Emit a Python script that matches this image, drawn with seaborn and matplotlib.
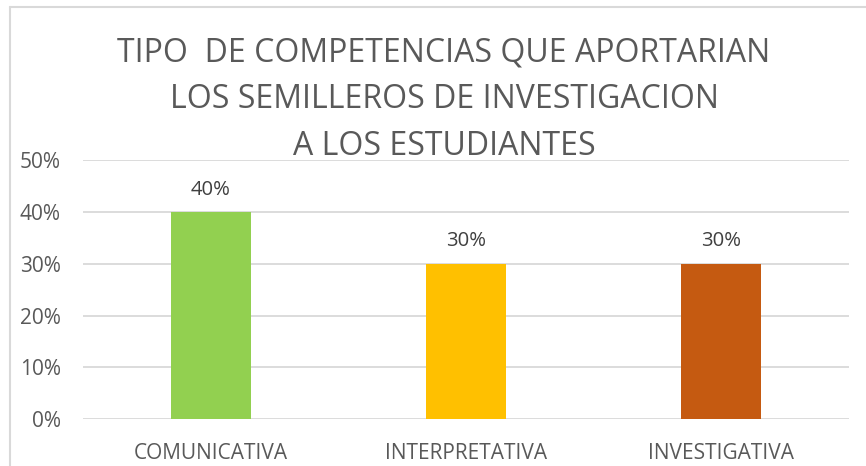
import matplotlib
matplotlib.use("Agg")
import matplotlib.pyplot as plt
import seaborn as sns
import pandas as pd
from matplotlib.lines import Line2D

categories = ["COMUNICATIVA", "INTERPRETATIVA", "INVESTIGATIVA"]
values = [0.40, 0.30, 0.30]
colors = ["#92D050", "#FFC000", "#C55A11"]
y_ticks = [0.0, 0.1, 0.2, 0.3, 0.4, 0.5]
y_tick_labels = ["0%", "10%", "20%", "30%", "40%", "50%"]
title = "TIPO  DE COMPETENCIAS QUE APORTARIAN\nLOS SEMILLEROS DE INVESTIGACION\nA LOS ESTUDIANTES"

sns.set_theme(style="white")
plt.rcParams['font.family'] = ['Open Sans', 'DejaVu Sans']

W, H = 866, 466
fig = plt.figure(figsize=(W / 100, H / 100), dpi=100)

# outer chart border (left and top visible)
fig.add_artist(Line2D([10 / W, 10 / W], [0, 1 - 7 / H], transform=fig.transFigure,
                      color="#D9D9D9", lw=1.5))
fig.add_artist(Line2D([10 / W, 1], [1 - 7 / H, 1 - 7 / H], transform=fig.transFigure,
                      color="#D9D9D9", lw=1.5))

left, right = 83 / W, 849 / W
bottom, top = (H - 419.3) / H, (H - 160) / H
ax = fig.add_axes([left, bottom, right - left, top - bottom])

df = pd.DataFrame({"cat": categories, "val": values})
sns.barplot(data=df, x="cat", y="val", hue="cat", palette=colors, legend=False,
            width=0.314, ax=ax, saturation=1, linewidth=0)

ax.set_ylim(0, 0.5)
ax.set_xlim(-0.5, 2.5)
ax.set_yticks(y_ticks)
ax.set_yticklabels(y_tick_labels)
ax.yaxis.grid(True, color="#D9D9D9", lw=1.3)
ax.set_axisbelow(True)
for s in ax.spines.values():
    s.set_visible(False)
ax.set_xlabel("")
ax.set_ylabel("")
ax.tick_params(axis="y", length=0, pad=16, labelsize=15, labelcolor="#595959")
ax.tick_params(axis="x", length=0, pad=17, labelsize=15, labelcolor="#595959")

for i, v in enumerate(values):
    ax.annotate(f"{v:.0%}", (i, v), xytext=(0, 16), textcoords="offset points",
                ha="center", va="center", fontsize=14.6, color="#404040")

fig.text(444 / W, 1 - 100 / H, title, ha="center", va="center",
         fontsize=23, color="#595959", linespacing=1.55)

fig.savefig("out.png", dpi=100)
